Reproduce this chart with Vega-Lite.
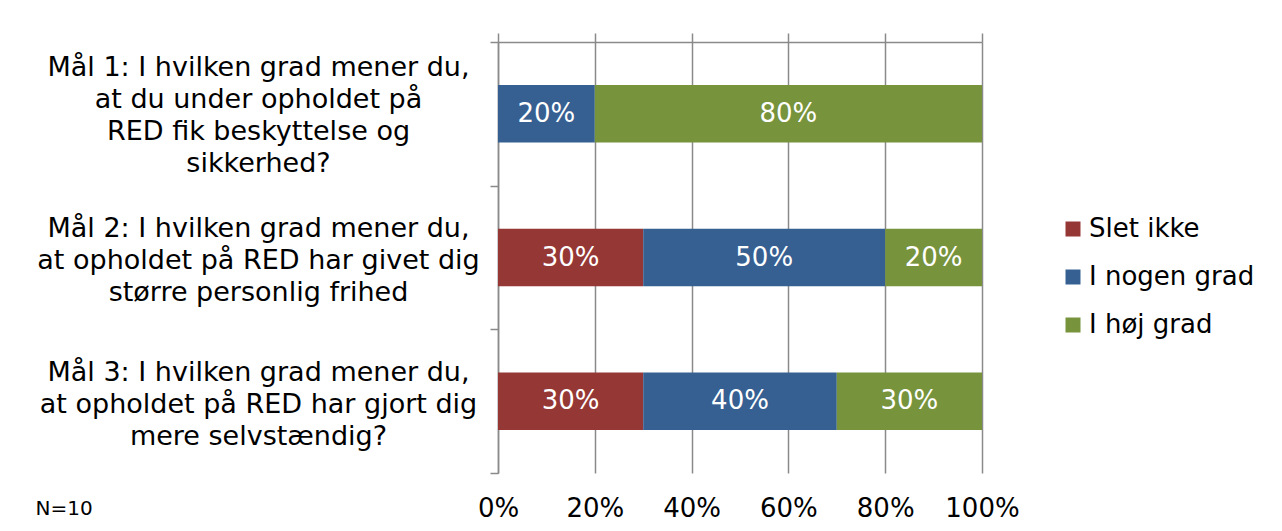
{
  "$schema": "https://vega.github.io/schema/vega-lite/v6.json",
  "width": 484,
  "height": 431,
  "autosize": {"type": "none"},
  "padding": {"left": 498, "top": 42, "right": 300, "bottom": 58},
  "background": "white",
  "config": {
    "font": "DejaVu Sans",
    "view": {"stroke": null},
    "axis": {"labelColor": "#000000", "labelFont": "DejaVu Sans", "labelFontSize": 26, "domainColor": "#8a8a8a", "tickColor": "#8a8a8a", "gridColor": "#8a8a8a", "domainWidth": 1.5, "tickWidth": 1.5, "gridWidth": 1.5}
  },
  "data": {
    "values": [
      {"q": "Q1", "kategori": "I nogen grad", "rank": 2, "value": 0.2},
      {"q": "Q1", "kategori": "I høj grad", "rank": 3, "value": 0.8},
      {"q": "Q2", "kategori": "Slet ikke", "rank": 1, "value": 0.3},
      {"q": "Q2", "kategori": "I nogen grad", "rank": 2, "value": 0.5},
      {"q": "Q2", "kategori": "I høj grad", "rank": 3, "value": 0.2},
      {"q": "Q3", "kategori": "Slet ikke", "rank": 1, "value": 0.3},
      {"q": "Q3", "kategori": "I nogen grad", "rank": 2, "value": 0.4},
      {"q": "Q3", "kategori": "I høj grad", "rank": 3, "value": 0.3}
    ]
  },
  "transform": [
    {"stack": "value", "groupby": ["q"], "sort": [{"field": "rank", "order": "ascending"}], "as": ["v0", "v1"]}
  ],
  "encoding": {
    "y": {
      "field": "q",
      "type": "nominal",
      "sort": ["Q1", "Q2", "Q3"],
      "scale": {"paddingInner": 0, "paddingOuter": 0},
      "axis": {
        "title": "N=10",
        "titleAngle": 0,
        "titleFontSize": 20,
        "titleFontWeight": "normal",
        "titleColor": "#000000",
        "titleAlign": "left",
        "titleBaseline": "middle",
        "titleX": -463,
        "titleY": 466,
        "tickBand": "extent",
        "tickSize": 8,
        "labelPadding": 232,
        "labelAlign": "center",
        "labelBaseline": "middle",
        "labelLimit": 600,
        "labelFontSize": 27,
        "labelLineHeight": 32,
        "labelOffset": {"condition": {"test": "datum.value == 'Q1'", "value": -46}, "value": -29},
        "labelExpr": "datum.value == 'Q1' ? ['Mål 1: I hvilken grad mener du,', 'at du under opholdet på', 'RED fik beskyttelse og', 'sikkerhed?'] : datum.value == 'Q2' ? ['Mål 2: I hvilken grad mener du,', 'at opholdet på RED har givet dig', 'større personlig frihed'] : datum.value == 'Q3' ? ['Mål 3: I hvilken grad mener du,', 'at opholdet på RED har gjort dig', 'mere selvstændig?'] : ''"
      }
    }
  },
  "layer": [
    {
      "mark": {"type": "bar", "height": {"band": 0.4}},
      "encoding": {
        "x": {
          "field": "v0",
          "type": "quantitative",
          "scale": {"domain": [0, 1]},
          "axis": {"orient": "bottom", "title": null, "format": ".0%", "values": [0, 0.2, 0.4, 0.6, 0.8, 1], "grid": true, "domain": false, "ticks": false, "labelPadding": 22, "labelFlush": false}
        },
        "x2": {"field": "v1"},
        "color": {
          "field": "kategori",
          "type": "nominal",
          "scale": {"domain": ["Slet ikke", "I nogen grad", "I høj grad"], "range": ["#953735", "#376092", "#77933C"]},
          "legend": {
            "title": null,
            "orient": "none",
            "legendX": 562,
            "legendY": 174,
            "padding": 0,
            "symbolType": "square",
            "symbolSize": 225,
            "symbolStrokeWidth": 0,
            "symbolOpacity": 1,
            "labelFontSize": 26,
            "labelColor": "#000000",
            "labelFont": "DejaVu Sans",
            "labelOffset": 3,
            "rowPadding": 22,
            "labelLimit": 300
          }
        }
      }
    },
    {
      "transform": [
        {"fold": ["v0", "v1"], "as": ["edge", "pos"]},
        {"aggregate": [{"op": "mean", "field": "pos", "as": "mid"}], "groupby": ["q", "kategori", "value"]}
      ],
      "mark": {"type": "text", "color": "white", "fontSize": 26, "font": "DejaVu Sans"},
      "encoding": {
        "x": {
          "field": "mid",
          "type": "quantitative",
          "scale": {"domain": [0, 1]},
          "axis": {"orient": "top", "title": null, "labels": false, "grid": false, "domain": true, "ticks": true, "tickSize": 9, "values": [0, 0.2, 0.4, 0.6, 0.8, 1]}
        },
        "text": {"field": "value", "type": "quantitative", "format": ".0%"}
      }
    }
  ],
  "resolve": {"axis": {"x": "independent"}}
}
